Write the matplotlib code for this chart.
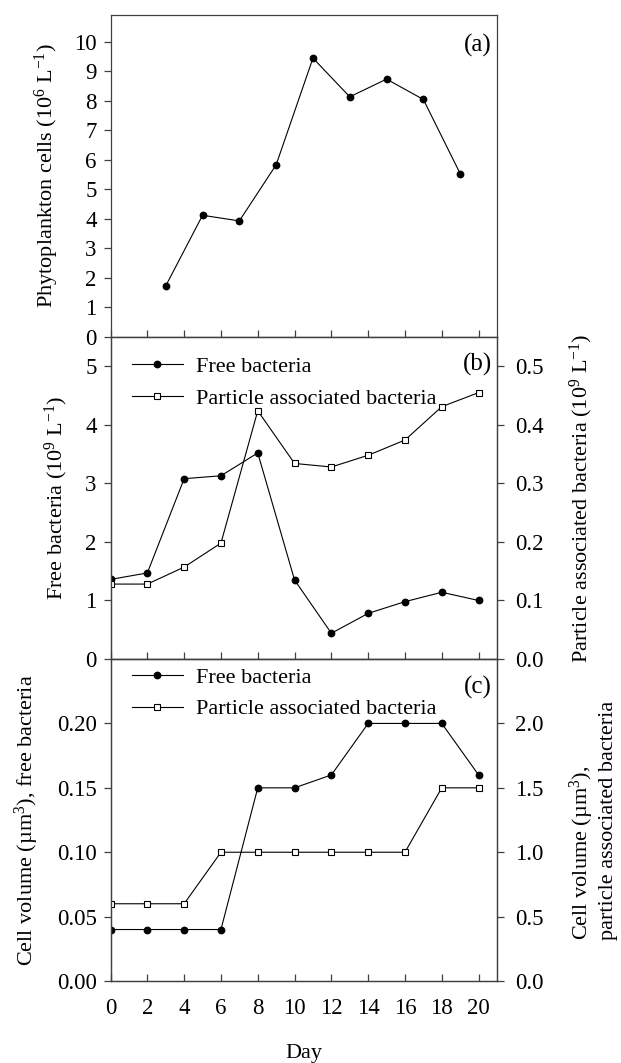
import matplotlib.pyplot as plt

plt.rcParams['font.family'] = ['Liberation Serif', 'DejaVu Serif']
plt.rcParams['mathtext.fontset'] = 'custom'
plt.rcParams['mathtext.rm'] = 'Liberation Serif'
plt.rcParams['mathtext.it'] = 'Liberation Serif:italic'
plt.rcParams['font.size'] = 16

# Fitoplankton (dni nieparzyste)
phyto_days = [3, 5, 7, 9, 11, 13, 15, 17, 19]
phyto_cells = [1.73, 4.12, 3.93, 5.83, 9.44, 8.13, 8.73, 8.04, 5.53]

# Bakterie (co 2 dni)
days = [0, 2, 4, 6, 8, 10, 12, 14, 16, 18, 20]
free_bact = [1.36, 1.47, 3.08, 3.13, 3.52, 1.35, 0.44, 0.78, 0.98, 1.14, 1.00]
particle_bact = [0.128, 0.128, 0.157, 0.198, 0.424, 0.334, 0.328, 0.348, 0.374, 0.431, 0.455]

# Objętość komórek
free_vol = [0.04, 0.04, 0.04, 0.04, 0.15, 0.15, 0.16, 0.20, 0.20, 0.20, 0.16]
particle_vol = [0.6, 0.6, 0.6, 1.0, 1.0, 1.0, 1.0, 1.0, 1.0, 1.5, 1.5]

day_ticks = list(range(0, 21, 2))

fig, axes = plt.subplots(3, 1, figsize=(6.21, 10.63), dpi=100, sharex=True)
fig.subplots_adjust(left=0.178, right=0.8003, top=0.9859, bottom=0.0771, hspace=0)

circ = dict(color='black', lw=0.8, marker='o', ms=4.6, mfc='black', mec='black')
sq = dict(color='black', lw=0.8, marker='s', ms=5.0, mfc='white', mec='black', mew=0.8)
spine_col = '#404040'
leg_kw = dict(loc='upper left', frameon=False, fontsize=16, handlelength=2.3,
              handletextpad=0.59, borderpad=0, borderaxespad=0, labelspacing=0.5)


def style(ax):
    ax.set_xlim(0, 21)
    ax.set_xticks(day_ticks)
    ax.tick_params(axis='x', direction='in', length=5, width=0.9,
                   color=spine_col, labelsize=16.5, pad=12)
    ax.tick_params(axis='y', direction='out', length=5, width=0.9,
                   color=spine_col, labelsize=16.5, pad=5)
    for s in ax.spines.values():
        s.set_linewidth(0.9)
        s.set_color(spine_col)


def style_right(ax2):
    ax2.tick_params(axis='y', direction='out', length=5, width=0.9,
                    color=spine_col, labelsize=16.5, pad=8)
    for s in ax2.spines.values():
        s.set_linewidth(0.9)
        s.set_color(spine_col)


# (a) fitoplankton
ax = axes[0]
ax.plot(phyto_days, phyto_cells, **circ)
ax.set_ylim(0, 10.9)
ax.set_yticks(range(0, 11))
ax.set_ylabel('Phytoplankton cells (10$^{6}$ L$^{-1}$)')
ax.yaxis.set_label_coords(-0.129, 0.5)
ax.text(0.987, 1 - 30 / 322, '(a)', transform=ax.transAxes, ha='right',
        va='center', fontsize=18)
style(ax)

# (b) liczebność bakterii
ax = axes[1]
ax2 = ax.twinx()
l1, = ax.plot(days, free_bact, **circ, label='Free bacteria')
l2, = ax2.plot(days, particle_bact, **sq, label='Particle associated bacteria')
ax.set_ylim(0, 5.5)
ax.set_yticks(range(0, 6))
ax2.set_ylim(0, 0.55)
ax2.set_yticks([0.0, 0.1, 0.2, 0.3, 0.4, 0.5])
ax2.set_yticklabels(['0.0', '0.1', '0.2', '0.3', '0.4', '0.5'])
ax.set_ylabel('Free bacteria (10$^{9}$ L$^{-1}$)')
ax.yaxis.set_label_coords(-0.105, 0.5)
ax2.set_ylabel('Particle associated bacteria (10$^{9}$ L$^{-1}$)')
ax2.yaxis.set_label_coords(1.184, 0.5)
ax.legend([l1, l2], [l1.get_label(), l2.get_label()],
          bbox_to_anchor=(0.055, 0.94), **leg_kw)
ax.text(0.987, 1 - 27 / 322, '(b)', transform=ax.transAxes, ha='right',
        va='center', fontsize=18)
style(ax)
style_right(ax2)

# (c) objętość komórek
ax = axes[2]
ax2 = ax.twinx()
l1, = ax.plot(days, free_vol, **circ, label='Free bacteria')
l2, = ax2.plot(days, particle_vol, **sq, label='Particle associated bacteria')
ax.set_ylim(0, 0.25)
ax.set_yticks([0.0, 0.05, 0.10, 0.15, 0.20])
ax.set_yticklabels(['0.00', '0.05', '0.10', '0.15', '0.20'])
ax2.set_ylim(0, 2.5)
ax2.set_yticks([0.0, 0.5, 1.0, 1.5, 2.0])
ax2.set_yticklabels(['0.0', '0.5', '1.0', '1.5', '2.0'])
ax.set_ylabel('Cell volume (µm$^{3}$), free bacteria')
ax.yaxis.set_label_coords(-0.180, 0.5)
ax2.set_ylabel('Cell volume (µm$^{3}$),\nparticle associated bacteria',
               multialignment='left')
ax2.yaxis.set_label_coords(1.184, 0.5)
ax.legend([l1, l2], [l1.get_label(), l2.get_label()],
          bbox_to_anchor=(0.055, 0.975), **leg_kw)
ax.text(0.987, 1 - 28 / 322, '(c)', transform=ax.transAxes, ha='right',
        va='center', fontsize=18)
style(ax)
style_right(ax2)
ax.set_xlabel('Day', labelpad=18)

fig.savefig('out.png', dpi=100)
